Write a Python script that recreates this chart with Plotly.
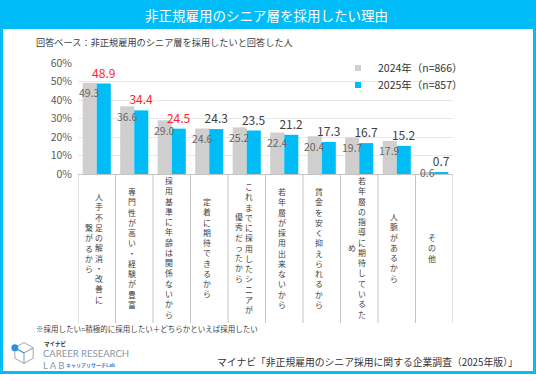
import plotly.graph_objects as go

# ---------------- data ----------------
categories = [
    "人手不足の解消・改善に繋がるから",
    "専門性が高い・経験が豊富",
    "採用基準に年齢は関係ないから",
    "定着に期待できるから",
    "これまでに採用したシニアが優秀だったから",
    "若年層が採用出来ないから",
    "賃金を安く抑えられるから",
    "若年層の指導に期待しているため",
    "人脈があるから",
    "その他",
]
# vertical label columns (right column first, as read)
label_columns = [
    ["人手不足の解消・改善に", "繋がるから"],
    ["専門性が高い・経験が豊富"],
    ["採用基準に年齢は関係ないから"],
    ["定着に期待できるから"],
    ["これまでに採用したシニアが", "優秀だったから"],
    ["若年層が採用出来ないから"],
    ["賃金を安く抑えられるから"],
    ["若年層の指導に期待しているた", "め"],
    ["人脈があるから"],
    ["その他"],
]
values_2024 = [49.3, 36.6, 29.0, 24.6, 25.2, 22.4, 20.4, 19.7, 17.9, 0.6]
values_2025 = [48.9, 34.4, 24.5, 24.3, 23.5, 21.2, 17.3, 16.7, 15.2, 0.7]
highlight_2025 = [True, True, True, False, False, False, False, False, False, False]
series_names = ["2024年（n=866）", "2025年（n=857）"]
y_ticks = [0, 10, 20, 30, 40, 50, 60]
y_tick_labels = ["0%", "10%", "20%", "30%", "40%", "50%", "60%"]

title_text = "非正規雇用のシニア層を採用したい理由"
subtitle_text = "回答ベース：非正規雇用のシニア層を採用したいと回答した人"
footnote_text = "※採用したい=積極的に採用したい＋どちらかといえば採用したい"
source_text = "マイナビ「非正規雇用のシニア採用に関する企業調査（2025年版）」"

# ---------------- style ----------------
FONT = "Noto Sans CJK JP"
GRAY = "#d0cece"
BLUE = "#00bdf8"
W, H = 536, 381
L, R, T, B = 78, 83, 63, 207
PW, PH = W - L - R, H - T - B
BASE = H - B


def px(x):
    return (x - L) / PW


def py(y):
    return (BASE - y) / PH


fig = go.Figure()
fig.add_trace(go.Bar(x=categories, y=values_2024, marker=dict(color=GRAY, line=dict(width=0)),
                     showlegend=False, hoverinfo="y"))
fig.add_trace(go.Bar(
    x=categories, y=values_2025, marker=dict(color=BLUE, line=dict(width=0)),
    text=[f"{v:.1f}" for v in values_2025], textposition="outside",
    textfont=dict(size=12, family=FONT,
                  color=["#ff1f1f" if h else "#404040" for h in highlight_2025]),
    constraintext="none", cliponaxis=False, showlegend=False, hoverinfo="y"))

# legend entries with small square markers (one legend per entry for tight spacing)
for name, col, lg in zip(series_names, [GRAY, BLUE], ["legend", "legend2"]):
    fig.add_trace(go.Scatter(x=[None], y=[None], mode="markers", name=name, legend=lg,
                             marker=dict(symbol="square", size=6, color=col)))

annotations = []
# 2024 value labels
for c, v in zip(categories, values_2024):
    annotations.append(dict(x=c, y=v, xref="x", yref="y", text=f"{v:.1f}", showarrow=False,
                            xshift=-7, yshift=-10 if v > 5 else 0, yanchor="middle",
                            font=dict(size=10.5, color="#666666", family=FONT)))

# vertical category labels (one column of stacked characters per annotation)
for c, cols in zip(categories, label_columns):
    offsets = [-2.5] if len(cols) == 1 else [2.5, -7.5]
    for s, off in zip(cols, offsets):
        annotations.append(dict(x=c, y=py(248), xref="x", yref="paper", text="<br>".join(s),
                                showarrow=False, xshift=off, yanchor="middle", align="center",
                                borderpad=0,
                                font=dict(size=7.9, color="#404040", family=FONT)))

# texts
annotations += [
    dict(x=px(W / 2 - 2), y=py(14.5), xref="paper", yref="paper", text=title_text, showarrow=False,
         font=dict(size=13.5, color="white", family=FONT), xanchor="center", yanchor="middle"),
    dict(x=px(34), y=py(41.5), xref="paper", yref="paper", text=subtitle_text, showarrow=False,
         font=dict(size=9.2, color="#404040", family=FONT), xanchor="left", yanchor="middle"),
    dict(x=px(34), y=py(328.5), xref="paper", yref="paper", text=footnote_text, showarrow=False,
         font=dict(size=7.5, color="#404040", family=FONT), xanchor="left", yanchor="middle"),
    dict(x=px(520), y=py(362), xref="paper", yref="paper", text=source_text, showarrow=False,
         font=dict(size=9.8, color="#333333", family=FONT), xanchor="right", yanchor="middle"),
    dict(x=px(41.5), y=py(343.5), xref="paper", yref="paper", text="<b>マイナビ</b>", showarrow=False,
         font=dict(size=5.5, color="#333333", family=FONT), xanchor="left", yanchor="middle"),
    dict(x=px(41), y=py(353), xref="paper", yref="paper", text="CAREER RESEARCH", showarrow=False,
         font=dict(size=9.5, color="#8796a8", family="Lato"), xanchor="left", yanchor="middle"),
    dict(x=px(41), y=py(365), xref="paper", yref="paper", text="L A B", showarrow=False,
         font=dict(size=9.5, color="#8796a8", family="Lato"), xanchor="left", yanchor="middle"),
    dict(x=px(64), y=py(365), xref="paper", yref="paper", text="<b>キャリアリサーチLab</b>", showarrow=False,
         font=dict(size=5, color="#3b7fd8", family=FONT), xanchor="left", yanchor="middle"),
]

shapes = []
# outer frame and title bar
shapes.append(dict(type="rect", xref="paper", yref="paper", x0=px(0), x1=px(W), y0=py(0), y1=py(29),
                   fillcolor=BLUE, line=dict(width=0), layer="below"))
shapes.append(dict(type="rect", xref="paper", yref="paper", x0=px(1.5), x1=px(534.5), y0=py(1.5),
                   y1=py(372.5), line=dict(color=BLUE, width=3), fillcolor="rgba(0,0,0,0)"))
# category cell separators
for i in range(len(categories) + 1):
    shapes.append(dict(type="line", xref="x", yref="paper", x0=i - 0.5, x1=i - 0.5, y0=0, y1=py(323),
                       line=dict(color="#c4c4c4", width=1)))

# logo icon (cube outline + dot)
cx, cy, r = 24, 353, 10.5
hexpts = [(cx, cy - r), (cx + 0.87 * r, cy - r / 2), (cx + 0.87 * r, cy + r / 2),
          (cx, cy + r), (cx - 0.87 * r, cy + r / 2), (cx - 0.87 * r, cy - r / 2)]
path = "M " + " L ".join(f"{px(a):.5f},{py(b):.5f}" for a, b in hexpts) + " Z"
shapes.append(dict(type="path", xref="paper", yref="paper", path=path,
                   line=dict(color="#9aa8b8", width=1)))
for (a, b), col in [(hexpts[1], "#9aa8b8"), (hexpts[3], "#9aa8b8"), (hexpts[5], "#2f8fe0")]:
    shapes.append(dict(type="line", xref="paper", yref="paper", x0=px(cx), y0=py(cy), x1=px(a), y1=py(b),
                       line=dict(color=col, width=1.2)))
shapes.append(dict(type="circle", xref="paper", yref="paper", x0=px(hexpts[5][0] - 3.5),
                   x1=px(hexpts[5][0] + 3.5), y0=py(hexpts[5][1] - 3.5), y1=py(hexpts[5][1] + 3.5),
                   fillcolor="#2f8fe0", line=dict(width=0)))

legend_style = dict(xanchor="left", yanchor="middle", bgcolor="rgba(0,0,0,0)",
                    font=dict(size=10.5, color="#333333", family=FONT), itemwidth=30)

fig.update_layout(
    width=W, height=H, margin=dict(l=L, r=R, t=T, b=B, autoexpand=False),
    paper_bgcolor="white", plot_bgcolor="white",
    barmode="group", bargap=0.25, bargroupgap=0,
    font=dict(family=FONT, color="#404040"),
    xaxis=dict(type="category", showticklabels=False, showgrid=False, showline=True,
               linecolor="#c4c4c4", linewidth=1, ticks="", range=[-0.5, len(categories) - 0.5]),
    yaxis=dict(range=[0, 60], tickvals=y_ticks, ticktext=y_tick_labels, showgrid=True,
               gridcolor="#e8e8e8", gridwidth=1, zeroline=False, showline=False, ticks="",
               tickfont=dict(size=10.5, color="#595959", family=FONT), ticklabelstandoff=5),
    legend=dict(x=px(338), y=py(68), **legend_style),
    legend2=dict(x=px(338), y=py(85), **legend_style),
    annotations=annotations, shapes=shapes,
)

fig.write_html("out.html", config={"displayModeBar": False},
               post_script="document.body.style.margin='0px';")
